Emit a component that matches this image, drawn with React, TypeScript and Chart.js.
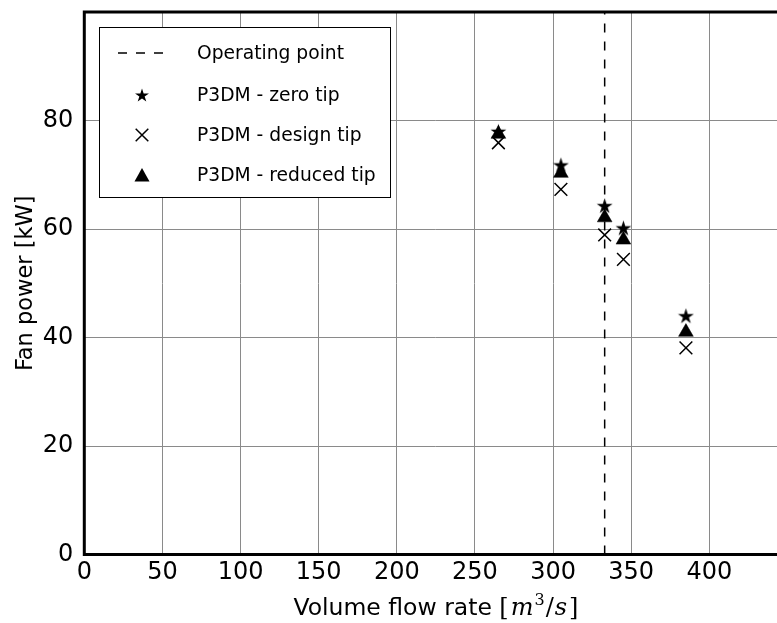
import React, { useEffect, useRef } from 'react';
import { Chart, registerables } from 'chart.js';

Chart.register(...registerables);

// ---- data ----
const flowRates = [265, 305, 333, 345, 385];
const zeroTipPower = [78.0, 71.8, 64.3, 60.2, 44.0];
const designTipPower = [75.9, 67.3, 58.9, 54.4, 38.1];
const reducedTipPower = [77.5, 70.3, 62.1, 58.0, 41.0];
const operatingFlow = 333;
const powerRange = [0, 100];
const flowRange = [0, 450];
const legendLabels = ['Operating point', 'P3DM - zero tip', 'P3DM - design tip', 'P3DM - reduced tip'];
const xTitleText = 'Volume flow rate ';
const xTitleMath = ['[', 'm', '3', '/', 's', ']'];
const yTitle = 'Fan power [kW]';

const FONT = '"DejaVu Sans", sans-serif';
const MATH = '"DejaVu Serif", serif';

function starPath(ctx: CanvasRenderingContext2D, cx: number, cy: number, R: number) {
  const r = R * 0.381966;
  ctx.beginPath();
  for (let i = 0; i < 10; i++) {
    const rad = i % 2 === 0 ? R : r;
    const a = -Math.PI / 2 + (i * Math.PI) / 5;
    const x = cx + rad * Math.cos(a);
    const y = cy + rad * Math.sin(a);
    if (i === 0) ctx.moveTo(x, y);
    else ctx.lineTo(x, y);
  }
  ctx.closePath();
}

function makeStar(size: number): HTMLCanvasElement {
  const c = document.createElement('canvas');
  c.width = size;
  c.height = size;
  const g = c.getContext('2d')!;
  g.fillStyle = '#000';
  starPath(g, size / 2, size / 2 + 0.7, size / 2 - 0.2);
  g.fill();
  return c;
}

const decorPlugin = {
  id: 'decor',
  afterDraw(chart: any) {
    const ctx: CanvasRenderingContext2D = chart.ctx;
    const { left, top, right, bottom } = chart.chartArea;
    ctx.save();
    // frame
    ctx.strokeStyle = '#000';
    ctx.lineWidth = 3;
    ctx.strokeRect(left, top, right - left, bottom - top);

    // legend
    const lx = 99.5, ly = 27.5, lw = 291, lh = 170;
    ctx.fillStyle = '#fff';
    ctx.fillRect(lx, ly, lw, lh);
    ctx.lineWidth = 1;
    ctx.strokeStyle = '#000';
    ctx.strokeRect(lx, ly, lw, lh);
    const rows = [53, 95, 135, 175];
    const symX = 142;
    const textX = 197;
    ctx.font = `18.7px ${FONT}`;
    ctx.fillStyle = '#000';
    ctx.textBaseline = 'middle';
    ctx.textAlign = 'left';
    legendLabels.forEach((lab, i) => {
      const y = rows[i];
      ctx.fillStyle = '#000';
      ctx.strokeStyle = '#000';
      if (i === 0) {
        ctx.save();
        ctx.lineWidth = 1.5;
        ctx.setLineDash([9, 9]);
        ctx.beginPath();
        ctx.moveTo(118, y);
        ctx.lineTo(164, y);
        ctx.stroke();
        ctx.restore();
      } else if (i === 1) {
        starPath(ctx, symX, y + 0.7, 7.3);
        ctx.fill();
      } else if (i === 2) {
        ctx.save();
        ctx.lineWidth = 1.5;
        const d = 6.3;
        ctx.beginPath();
        ctx.moveTo(symX - d, y - d);
        ctx.lineTo(symX + d, y + d);
        ctx.moveTo(symX - d, y + d);
        ctx.lineTo(symX + d, y - d);
        ctx.stroke();
        ctx.restore();
      } else {
        ctx.beginPath();
        ctx.moveTo(symX, y - 7);
        ctx.lineTo(symX - 7.5, y + 6.5);
        ctx.lineTo(symX + 7.5, y + 6.5);
        ctx.closePath();
        ctx.fill();
      }
      ctx.fillText(lab, textX, y + 1);
    });

    // x title with math part
    const base = `23.5px ${FONT}`;
    const parts = [
      { t: xTitleText, f: base, dy: 0, gap: 0 },
      { t: xTitleMath[0], f: `24px ${MATH}`, dy: 0, gap: 2 },
      { t: xTitleMath[1], f: `italic 24px ${MATH}`, dy: 0, gap: 1 },
      { t: xTitleMath[2], f: `16px ${MATH}`, dy: -10, gap: 1 },
      { t: xTitleMath[3], f: `24px ${MATH}`, dy: 0, gap: 1 },
      { t: xTitleMath[4], f: `italic 24px ${MATH}`, dy: 0, gap: 2 },
      { t: xTitleMath[5], f: `24px ${MATH}`, dy: 0, gap: 0 },
    ];
    let total = 0;
    parts.forEach((p) => {
      ctx.font = p.f;
      total += ctx.measureText(p.t).width + p.gap;
    });
    let x = (left + right) / 2 - total / 2;
    const by = 615;
    ctx.textBaseline = 'alphabetic';
    ctx.textAlign = 'left';
    ctx.fillStyle = '#000';
    parts.forEach((p) => {
      ctx.font = p.f;
      ctx.fillText(p.t, x, by + p.dy);
      x += ctx.measureText(p.t).width + p.gap;
    });

    // y title
    ctx.save();
    ctx.translate(32, (top + bottom) / 2);
    ctx.rotate(-Math.PI / 2);
    ctx.font = `22.5px ${FONT}`;
    ctx.textAlign = 'center';
    ctx.textBaseline = 'alphabetic';
    ctx.fillText(yTitle, 0, 0);
    ctx.restore();

    ctx.restore();
  },
};

function zeroPad(s: any) {
  s.paddingTop = 0;
  s.paddingBottom = 0;
  s.paddingLeft = 0;
  s.paddingRight = 0;
}

export default function App() {
  const ref = useRef<HTMLCanvasElement | null>(null);
  useEffect(() => {
    if (!ref.current) return;
    const star = makeStar(17);
    const chart = new Chart(ref.current, {
      type: 'scatter',
      data: {
        datasets: [
          {
            label: legendLabels[1],
            data: flowRates.map((x, i) => ({ x, y: zeroTipPower[i] })),
            pointStyle: star as any,
            pointRadius: 8,
            backgroundColor: '#000',
            borderColor: '#000',
          },
          {
            label: legendLabels[2],
            data: flowRates.map((x, i) => ({ x, y: designTipPower[i] })),
            pointStyle: 'crossRot',
            pointRadius: 9,
            borderWidth: 1.5,
            backgroundColor: '#000',
            borderColor: '#000',
          },
          {
            label: legendLabels[3],
            data: flowRates.map((x, i) => ({ x, y: reducedTipPower[i] })),
            pointStyle: 'triangle',
            pointRadius: 8.5,
            borderWidth: 0.5,
            backgroundColor: '#000',
            borderColor: '#000',
          },
          {
            label: legendLabels[0],
            data: [
              { x: operatingFlow, y: powerRange[0] },
              { x: operatingFlow, y: powerRange[1] },
            ],
            showLine: true,
            pointRadius: 0,
            borderColor: '#000',
            borderWidth: 1.5,
            borderDash: [9, 9],
          } as any,
        ],
      },
      options: {
        animation: false,
        responsive: false,
        devicePixelRatio: 1,
        layout: { padding: { top: 12, right: 0, left: 0, bottom: 0 } },
        plugins: {
          legend: { display: false },
          tooltip: { enabled: false },
        },
        scales: {
          x: {
            type: 'linear',
            min: flowRange[0],
            max: flowRange[1],
            border: { display: false },
            grid: { color: '#8a8a8a', lineWidth: 1, drawTicks: false },
            ticks: {
              stepSize: 50,
              color: '#000',
              padding: 4,
              font: { family: FONT, size: 24 },
              callback: (v: any) => (v === flowRange[1] ? '' : String(v)),
            },
            afterFit: (s: any) => {
              s.height = 68.5;
              zeroPad(s);
            },
          },
          y: {
            type: 'linear',
            min: powerRange[0],
            max: powerRange[1],
            border: { display: false },
            grid: { color: '#8a8a8a', lineWidth: 1, drawTicks: false },
            ticks: {
              stepSize: 20,
              color: '#000',
              padding: 11,
              font: { family: FONT, size: 24 },
              callback: (v: any) => (v === powerRange[1] ? '' : String(v)),
            },
            afterFit: (s: any) => {
              s.width = 84.3;
              zeroPad(s);
            },
          },
        },
      } as any,
      plugins: [decorPlugin],
    });
    return () => chart.destroy();
  }, []);
  return (
    <div
      style={{
        position: 'absolute',
        left: 0,
        top: 0,
        width: 777,
        height: 623,
        overflow: 'hidden',
        background: '#fff',
      }}
    >
      <canvas ref={ref} width={798} height={623} style={{ display: 'block' }} />
    </div>
  );
}
